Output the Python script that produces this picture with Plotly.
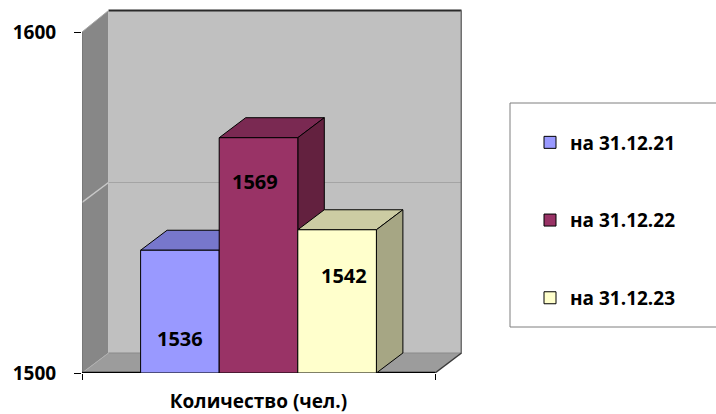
import plotly.graph_objects as go

# ---------------- data ----------------
categories = ["Количество (чел.)"]
series_names = ["на 31.12.21", "на 31.12.22", "на 31.12.23"]
values = [1536, 1569, 1542]
y_tick_vals = [1500, 1600]
y_tick_text = ["1500", "1600"]
grid_values = [1550]

# ---------------- styles ----------------
front_colors = ["#9999FF", "#993366", "#FFFFCC"]
top_colors = ["#7777CC", "#7A2952", "#CCCCA3"]
side_colors = ["#6B6BB3", "#63213F", "#A6A684"]
back_wall = "#C0C0C0"
side_wall = "#878787"
floor_col = "#9C9C9C"
FONT = "Open Sans"

# ---------------- geometry ----------------
W, H = 716, 414
L, R, T, B = 82, 254, 9, 41
plot_w = W - L - R
plot_h = H - T - B
px_x = 353.0          # pixels per category unit on the front plane
px_y = 3.41           # pixels per value unit
ybase = y_tick_vals[0]
x_range = [-0.5, -0.5 + plot_w / px_x]
y_range = [ybase, ybase + plot_h / px_y]
DX = 26.5 / px_x
DY = 20.0 / px_y
DY_TOP = 21.5 / px_y
bargap = 0.332
grp = 1 - bargap
bw = grp / len(values)


def px2paper_x(p):
    return (p - L) / plot_w


def px2paper_y(p):
    return (H - B - p) / plot_h


def path(pts):
    return "M " + " L ".join(f"{x:.5f},{y:.5f}" for x, y in pts) + " Z"


fig = go.Figure()

offsets = [-grp / 2 + i * bw for i in range(len(values))]
for i, (name, v) in enumerate(zip(series_names, values)):
    fig.add_trace(go.Bar(
        x=[0], y=[v - ybase], base=[ybase], name=name,
        width=[bw], offset=[offsets[i]],
        marker=dict(color=front_colors[i], line=dict(color="black", width=1)),
        legendgroup=name, hoverinfo="y",
    ))

shapes = []
xl, xr = -0.5, 0.5
ytop = y_tick_vals[-1]
# side wall
shapes.append(dict(type="path", layer="below", xref="x", yref="y",
                   path=path([(xl, ybase), (xl, ytop), (xl + DX, ytop + DY_TOP), (xl + DX, ybase + DY)]),
                   fillcolor=side_wall, line=dict(width=0)))
# back wall
shapes.append(dict(type="rect", layer="below", xref="x", yref="y",
                   x0=xl + DX, x1=xr + DX, y0=ybase + DY, y1=ytop + DY_TOP,
                   fillcolor=back_wall, line=dict(width=0)))
# floor
shapes.append(dict(type="path", layer="below", xref="x", yref="y",
                   path=path([(xl, ybase), (xr, ybase), (xr + DX, ybase + DY), (xl + DX, ybase + DY)]),
                   fillcolor=floor_col, line=dict(width=0)))
# gridlines
for g in grid_values:
    shapes.append(dict(type="line", layer="below", xref="x", yref="y",
                       x0=xl + DX, x1=xr + DX, y0=g + DY, y1=g + DY,
                       line=dict(color="#A4A4A4", width=1.2)))
    shapes.append(dict(type="line", layer="below", xref="x", yref="y",
                       x0=xl, x1=xl + DX, y0=g, y1=g + DY,
                       line=dict(color="#C8C8C8", width=1.5)))
# wall edges
shapes.append(dict(type="line", layer="below", xref="x", yref="y",
                   x0=xl + DX, x1=xr + DX, y0=ytop + DY_TOP, y1=ytop + DY_TOP,
                   line=dict(color="#2A2A2A", width=2)))
shapes.append(dict(type="line", layer="below", xref="x", yref="y",
                   x0=xr + DX, x1=xr + DX, y0=ybase + DY, y1=ytop + DY_TOP,
                   line=dict(color="#707070", width=2)))
shapes.append(dict(type="line", layer="below", xref="x", yref="y",
                   x0=xl, x1=xl + DX, y0=ytop, y1=ytop + DY_TOP,
                   line=dict(color="#A8A8A8", width=1)))
shapes.append(dict(type="line", layer="below", xref="x", yref="y",
                   x0=xl + DX, x1=xr + DX, y0=ybase + DY, y1=ybase + DY,
                   line=dict(color="#8A8A8A", width=1)))
shapes.append(dict(type="line", layer="below", xref="x", yref="y",
                   x0=xl, x1=xl + DX, y0=ybase, y1=ybase + DY,
                   line=dict(color="#B0B0B0", width=1)))
shapes.append(dict(type="line", layer="below", xref="x", yref="y",
                   x0=xr, x1=xr + DX, y0=ybase, y1=ybase + DY,
                   line=dict(color="#3A3A3A", width=1.5)))
shapes.append(dict(type="line", layer="below", xref="x", yref="y",
                   x0=xl, x1=xl, y0=ybase, y1=ytop,
                   line=dict(color="#6A6A6A", width=1)))
shapes.append(dict(type="line", layer="below", xref="x", yref="y",
                   x0=xl, x1=xr, y0=ybase, y1=ybase,
                   line=dict(color="black", width=2.5)))

# 3D faces of bars (drawn below traces, in bar order)
for i, v in enumerate(values):
    bl = offsets[i]
    br = offsets[i] + bw
    shapes.append(dict(type="path", layer="below", xref="x", yref="y",
                       path=path([(bl, v), (bl + DX, v + DY), (br + DX, v + DY), (br, v)]),
                       fillcolor=top_colors[i], line=dict(color="black", width=1)))
    shapes.append(dict(type="path", layer="below", xref="x", yref="y",
                       path=path([(br, ybase), (br, v), (br + DX, v + DY), (br + DX, ybase + DY)]),
                       fillcolor=side_colors[i], line=dict(color="black", width=1)))

# legend box
shapes.append(dict(type="rect", xref="paper", yref="paper",
                   x0=px2paper_x(510), x1=px2paper_x(740),
                   y0=px2paper_y(327), y1=px2paper_y(103),
                   line=dict(color="#7F7F7F", width=1), fillcolor="rgba(0,0,0,0)"))

# value labels
label_frac = [0.285, 0.816, 0.683]
label_dx = [0.0, -0.01, 0.02]
annotations = []
for i, v in enumerate(values):
    annotations.append(dict(
        x=offsets[i] + bw / 2 + label_dx[i], y=ybase + (v - ybase) * label_frac[i],
        xref="x", yref="y", text=f"{v}", showarrow=False,
        font=dict(family=FONT, size=20, color="black", weight="bold")))

fig.update_layout(
    width=W, height=H, autosize=False,
    margin=dict(l=L, r=R, t=T, b=B, autoexpand=False),
    paper_bgcolor="white", plot_bgcolor="white",
    barmode="overlay",
    shapes=shapes, annotations=annotations,
    showlegend=True,
    legend=dict(x=px2paper_x(530), y=px2paper_y(123.5), xanchor="left", yanchor="top",
                bgcolor="rgba(0,0,0,0)", borderwidth=0,
                tracegroupgap=50, traceorder="grouped",
                font=dict(family=FONT, size=19, color="black", weight="bold")),
    xaxis=dict(range=x_range, tickvals=[0], ticktext=categories, ticks="",
               showgrid=False, zeroline=False, showline=False,
               tickfont=dict(family=FONT, size=19, color="black", weight="bold"),
               ticklabelstandoff=15,
               minor=dict(tickvals=[-0.5, 0.5], ticks="outside", ticklen=6,
                          tickcolor="black", tickwidth=1, showgrid=False)),
    yaxis=dict(range=y_range, tickvals=y_tick_vals, ticktext=y_tick_text,
               ticks="outside", ticklen=7, tickcolor="black", tickwidth=1,
               showgrid=False, zeroline=False, showline=False,
               tickfont=dict(family=FONT, size=19, color="black", weight="bold"),
               ticklabelstandoff=14),
)

fig.write_html("out.html", config={"responsive": False, "displayModeBar": False},
               post_script="document.body.style.margin='0';document.body.style.overflow='hidden';")
